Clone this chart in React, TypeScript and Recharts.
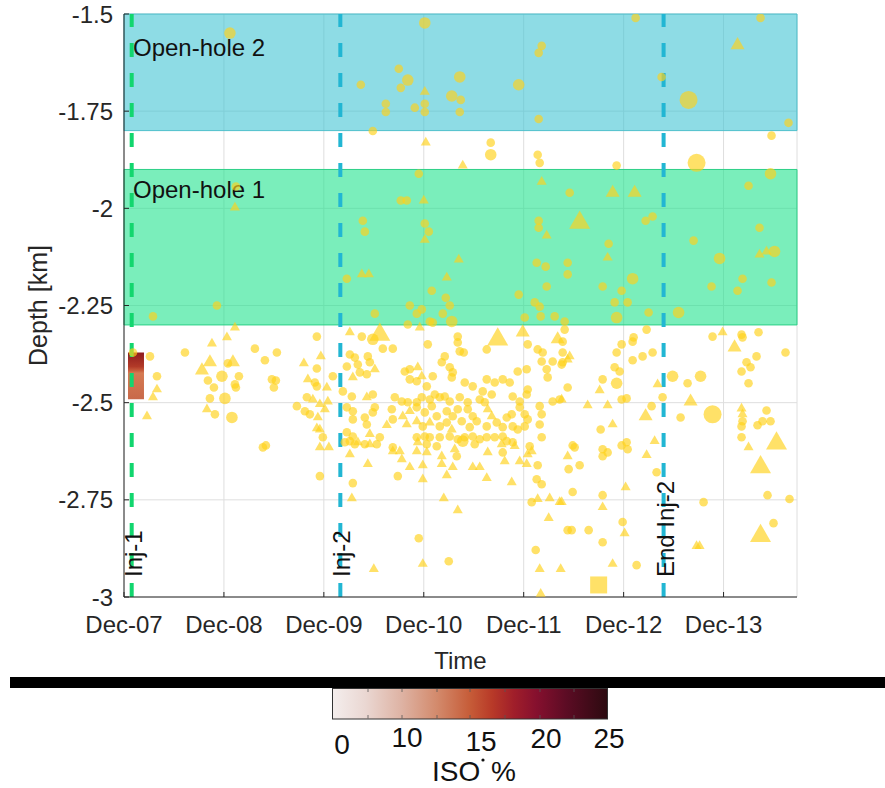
import React from 'react';
import {
  ScatterChart,
  Scatter,
  XAxis,
  YAxis,
  CartesianGrid,
  ReferenceArea,
  ReferenceLine,
} from 'recharts';

const FONT = '"Liberation Sans", Arial, Helvetica, sans-serif';
const YEL = '#ffd21a';

// x = days after Dec-07 (0 = Dec-07), y = depth in km
const dayTicks = [0, 1, 2, 3, 4, 5, 6];
const dayLabels = ['Dec-07', 'Dec-08', 'Dec-09', 'Dec-10', 'Dec-11', 'Dec-12', 'Dec-13'];
const depthTicks = [-3, -2.75, -2.5, -2.25, -2, -1.75, -1.5];

const openHole2 = [-1.8, -1.5];
const openHole1 = [-2.3, -1.9];

const injDays = [0.077, 2.165, 5.4];
const injNames = ['Inj-1', 'Inj-2', 'End Inj-2'];

// coloured ISO patch next to Inj-1 (days, depth)
const isoPatchDays = [0.04, 0.2];
const isoPatchDepth = [-2.491, -2.371];
const isoTicks = [0, 10, 15, 20, 25];

const circleSmall: [number, number][] = [
  [1.12, -1.944], [2.23, -2.181], [0.93, -2.25], [0.29, -2.278], [4.18, -1.582], [4.15, -1.6],
  [2.75, -1.641], [2.37, -1.682], [2.77, -1.69], [3.37, -1.721], [2.62, -1.731], [2.62, -1.752],
  [2.91, -1.741], [3.01, -1.731], [3.01, -1.752], [3.36, -1.752], [4.15, -1.77], [2.49, -1.801],
  [3.67, -1.831], [4.14, -1.862], [4.16, -1.883], [2.95, -1.911], [4.46, -1.96], [2.77, -1.98],
  [2.83, -1.98], [2.39, -2.032], [2.41, -2.06], [3.01, -2.039], [3.05, -2.06], [4.15, -2.032],
  [4.15, -2.05], [4.13, -2.14], [4.22, -2.15], [4.44, -2.14], [4.44, -2.17], [4.23, -2.201],
  [3.08, -2.212], [3.22, -2.23], [3.95, -2.222], [4.11, -2.242], [4.16, -2.253], [2.86, -2.25],
  [3.26, -2.25], [2.51, -2.271], [2.93, -2.271], [2.98, -2.26], [3.19, -2.271], [3.06, -2.291],
  [3.09, -2.294], [2.84, -2.299], [4.01, -2.281], [4.17, -2.278], [4.31, -2.278], [4.41, -2.291],
  [5.12, -1.51], [6.37, -1.51], [5.38, -1.662], [6.65, -1.78], [6.48, -1.813], [4.93, -1.89],
  [6.25, -1.942], [5.22, -2.032], [5.29, -2.021], [6.36, -2.05], [5.7, -2.083], [4.85, -2.091],
  [6.19, -2.181], [6.48, -2.191], [4.79, -2.201], [4.98, -2.212], [5.88, -2.201], [6.14, -2.212],
  [4.91, -2.242], [5.04, -2.242], [5.25, -2.268],
  [0.09, -2.371], [0.26, -2.381], [0.33, -2.432], [0.61, -2.371], [1.31, -2.361], [1.53, -2.371],
  [1.41, -2.391], [1.04, -2.399], [1.15, -2.432], [0.84, -2.443], [1.11, -2.453], [1.12, -2.461],
  [0.9, -2.461], [1.48, -2.44], [1.52, -2.443], [1.5, -2.461], [0.86, -2.489], [0.91, -2.53],
  [1.39, -2.615], [1.42, -2.61], [1.93, -2.33], [1.93, -2.412], [1.91, -2.448], [1.93, -2.458],
  [2.09, -2.432], [1.83, -2.486], [1.73, -2.509], [1.81, -2.522], [1.86, -2.53], [1.99, -2.589],
  [1.96, -2.689],
  [2.38, -2.33], [2.59, -2.361], [2.69, -2.361], [3.04, -2.35], [3.34, -2.33], [3.34, -2.345],
  [3.36, -2.368], [3.4, -2.371], [3.63, -2.363], [4.04, -2.35], [4.14, -2.363], [4.19, -2.371],
  [4.39, -2.371], [2.26, -2.376], [2.31, -2.384], [2.44, -2.381], [2.46, -2.396], [2.23, -2.407],
  [2.34, -2.402], [2.36, -2.422], [2.43, -2.427], [2.81, -2.42], [2.86, -2.414], [3.18, -2.396],
  [3.21, -2.381], [3.26, -2.409], [3.29, -2.422], [3.28, -2.435], [3.09, -2.432], [2.86, -2.44],
  [2.93, -2.445], [3.03, -2.458], [3.41, -2.448], [3.49, -2.458], [3.63, -2.44], [3.71, -2.448],
  [3.59, -2.471], [3.68, -2.479], [3.79, -2.44], [3.86, -2.448], [3.94, -2.42], [4.03, -2.414],
  [4.18, -2.394], [4.23, -2.414], [4.24, -2.435], [4.29, -2.394], [4.38, -2.402], [4.44, -2.461],
  [4.04, -2.466], [4.03, -2.479], [2.19, -2.471], [2.28, -2.484], [2.49, -2.479], [2.71, -2.486],
  [2.78, -2.497], [2.84, -2.499], [2.93, -2.499], [2.98, -2.486], [3.06, -2.492], [3.11, -2.479],
  [3.16, -2.486], [3.21, -2.484], [3.26, -2.497], [3.36, -2.486], [3.44, -2.499], [3.56, -2.492],
  [3.61, -2.499], [3.89, -2.484], [3.96, -2.497], [3.96, -2.512], [4.01, -2.53], [4.16, -2.509],
  [4.18, -2.53], [4.29, -2.497], [4.36, -2.492], [2.23, -2.512], [2.29, -2.522], [2.51, -2.512],
  [2.49, -2.525], [2.68, -2.517], [2.93, -2.512], [3.01, -2.525], [3.08, -2.509], [3.13, -2.535],
  [3.23, -2.522], [3.29, -2.535], [3.34, -2.517], [3.44, -2.517], [3.49, -2.535], [3.83, -2.538],
  [3.88, -2.53], [2.29, -2.543], [2.41, -2.538], [2.43, -2.556], [2.69, -2.543], [2.99, -2.561],
  [3.16, -2.561], [3.23, -2.551], [3.38, -2.548], [3.46, -2.563], [3.53, -2.548], [3.63, -2.561],
  [3.73, -2.551], [3.79, -2.563], [3.89, -2.561], [3.94, -2.569], [4.01, -2.561], [4.04, -2.543],
  [4.16, -2.556], [4.18, -2.589], [2.23, -2.576], [2.29, -2.587], [2.26, -2.599], [2.56, -2.589],
  [2.93, -2.589], [3.01, -2.587], [3.06, -2.589], [3.16, -2.589], [3.26, -2.587], [3.34, -2.594],
  [3.41, -2.589], [3.49, -2.587], [3.56, -2.594], [3.63, -2.589], [3.71, -2.589], [3.79, -2.587],
  [3.83, -2.599], [2.21, -2.602], [2.31, -2.607], [2.41, -2.607], [2.53, -2.607], [2.69, -2.615],
  [3.03, -2.607], [3.13, -2.612], [3.51, -2.607], [3.89, -2.602], [4.06, -2.612], [3.33, -2.638],
  [3.79, -2.628], [4.14, -2.661], [2.74, -2.689], [2.29, -2.707], [4.13, -2.697], [4.18, -2.71],
  [4.08, -2.756], [4.44, -2.828], [2.95, -2.849], [4.12, -2.879], [3.25, -2.908],
  [4.41, -2.312], [4.39, -2.343], [4.39, -2.396], [4.98, -2.35], [4.93, -2.371], [5.1, -2.332],
  [5.09, -2.343], [5.23, -2.312], [5.09, -2.391], [5.19, -2.381], [5.29, -2.371], [4.91, -2.409],
  [4.96, -2.42], [4.79, -2.44], [4.98, -2.492], [5.03, -2.489], [5.64, -2.45], [5.39, -2.486],
  [5.28, -2.509], [5.57, -2.538], [5.89, -2.33], [6.18, -2.325], [6.19, -2.332], [6.35, -2.319],
  [6.33, -2.381], [6.62, -2.371], [6.23, -2.396], [6.27, -2.409], [6.18, -2.42], [6.25, -2.45],
  [6.43, -2.52], [6.19, -2.548], [6.18, -2.561], [6.34, -2.558], [6.39, -2.548], [6.47, -2.548],
  [6.18, -2.589], [6.44, -2.738], [6.66, -2.748], [6.5, -2.81], [4.77, -2.569], [4.49, -2.61],
  [4.51, -2.615], [4.45, -2.671], [4.56, -2.661], [4.79, -2.62], [4.84, -2.628], [4.79, -2.638],
  [4.98, -2.61], [5.03, -2.602], [5.04, -2.62], [5.33, -2.679], [4.49, -2.73], [4.79, -2.738],
  [5.8, -2.756], [4.99, -2.807], [4.48, -2.828], [4.65, -2.828], [4.79, -2.859], [5.13, -2.918],
];

const circleMed: [number, number][] = [
  [1.06, -1.549], [3.01, -1.523], [2.84, -1.67], [3.36, -1.662], [3.95, -1.682], [3.28, -1.711],
  [3.67, -1.862], [3.28, -2.291], [6.47, -1.911], [5.96, -2.129], [5.09, -2.181], [4.93, -2.281],
  [5.55, -2.268], [6.51, -2.111], [0.98, -2.432], [1.01, -2.489], [2.49, -2.337], [4.93, -2.45],
  [5.49, -2.432], [5.77, -2.432], [3.39, -2.599], [1.08, -2.538],
];

const circleBig: [number, number][] = [[5.65, -1.721], [5.73, -1.883], [5.89, -2.53]];

const triSmall: [number, number][] = [
  [1.11, -1.998], [1.11, -2.307], [3.01, -1.7], [3.02, -1.831], [3.39, -1.89], [4.18, -1.932],
  [3.0, -1.98], [3.01, -2.081], [4.23, -2.07], [3.35, -2.132], [2.38, -2.17], [2.45, -2.17],
  [3.23, -2.178], [4.84, -2.127], [6.36, -2.119], [6.43, -2.111], [0.33, -2.466], [0.29, -2.486],
  [0.23, -2.535], [0.88, -2.348], [1.03, -2.332], [0.83, -2.517], [1.97, -2.381], [1.8, -2.399],
  [1.84, -2.44], [2.03, -2.461], [1.89, -2.492], [1.96, -2.504], [2.04, -2.497], [1.94, -2.538],
  [1.93, -2.566], [1.96, -2.569], [1.96, -2.615], [2.05, -2.615], [2.01, -2.517], [2.26, -2.319],
  [2.96, -2.307], [2.51, -2.414], [2.29, -2.435], [2.94, -2.409], [2.98, -2.432], [4.44, -2.389],
  [2.43, -2.486], [2.79, -2.535], [2.86, -2.522], [3.64, -2.517], [3.68, -2.535], [2.63, -2.558],
  [2.83, -2.556], [2.93, -2.548], [3.06, -2.551], [3.28, -2.569], [2.46, -2.581], [2.34, -2.602],
  [2.46, -2.607], [2.76, -2.625], [2.94, -2.602], [3.78, -2.607], [3.91, -2.612], [4.08, -2.625],
  [2.26, -2.633], [2.69, -2.625], [2.93, -2.625], [3.03, -2.628], [3.18, -2.638], [3.31, -2.62],
  [3.64, -2.628], [3.81, -2.651], [3.96, -2.651], [4.04, -2.633], [4.03, -2.658], [2.44, -2.658],
  [2.78, -2.646], [2.86, -2.666], [2.99, -2.661], [3.18, -2.658], [3.29, -2.666], [3.49, -2.666],
  [3.56, -2.666], [2.99, -2.697], [3.23, -2.687], [3.63, -2.694], [3.88, -2.705], [2.28, -2.746],
  [3.2, -2.746], [3.34, -2.777], [4.14, -2.748], [4.26, -2.746], [4.36, -2.756], [4.25, -2.797],
  [2.5, -2.928], [2.99, -2.915], [4.16, -2.928], [4.37, -2.928], [4.17, -2.992], [4.46, -2.381],
  [4.38, -2.492], [4.76, -2.468], [4.64, -2.507], [4.84, -2.507], [5.34, -2.453], [5.99, -2.319],
  [6.18, -2.515], [6.19, -2.53], [6.25, -2.615], [4.89, -2.556], [4.44, -2.638], [5.23, -2.635],
  [5.31, -2.599], [5.02, -2.718], [4.79, -2.769], [4.38, -2.756], [5.01, -2.836], [5.73, -2.869],
  [5.76, -2.869], [4.89, -2.915],
];

const triMed: [number, number][] = [
  [6.14, -1.58], [4.89, -1.96], [5.11, -1.96], [4.34, -2.337], [5.22, -2.535], [5.67, -2.497],
  [3.99, -2.319], [0.86, -2.396], [0.78, -2.417], [1.09, -2.396], [6.11, -2.358],
];

const triBig: [number, number][] = [
  [2.56, -2.325], [3.74, -2.337], [4.56, -2.037], [6.53, -2.605], [6.37, -2.666], [6.37, -2.843],
];

const squares: [number, number][] = [[4.75, -2.969]];

type Kind = 'circle' | 'triangle' | 'square';

const marker = (kind: Kind, s: number) => (p: any) => {
  const { cx, cy } = p;
  if (!Number.isFinite(cx) || !Number.isFinite(cy)) return <g />;
  if (kind === 'circle') {
    return <circle cx={cx} cy={cy} r={s} fill={YEL} fillOpacity={0.66} />;
  }
  if (kind === 'square') {
    return <rect x={cx - s / 2} y={cy - s / 2} width={s} height={s} fill={YEL} fillOpacity={0.66} />;
  }
  const h = s * 0.87;
  return (
    <polygon
      points={`${cx},${cy - (h * 2) / 3} ${cx - s / 2},${cy + h / 3} ${cx + s / 2},${cy + h / 3}`}
      fill={YEL}
      fillOpacity={0.66}
    />
  );
};

const series = [
  { name: 'circleSmall', data: circleSmall, shape: marker('circle', 4.3) },
  { name: 'triSmall', data: triSmall, shape: marker('triangle', 10) },
  { name: 'circleMed', data: circleMed, shape: marker('circle', 5.8) },
  { name: 'triMed', data: triMed, shape: marker('triangle', 14) },
  { name: 'circleBig', data: circleBig, shape: marker('circle', 9) },
  { name: 'triBig', data: triBig, shape: marker('triangle', 21) },
  { name: 'squares', data: squares, shape: marker('square', 17) },
];

const injColors = ['#12d66e', '#22b6d3', '#22b6d3'];

const injLabel = (text: string) => (props: any) => {
  const vb = props.viewBox || {};
  const x = (vb.x ?? 0) + 10;
  const y = (vb.y ?? 0) + (vb.height ?? 0) - 20;
  return (
    <text transform={`translate(${x},${y}) rotate(-90)`} fontSize={24} fill="#111" fontFamily={FONT}>
      {text}
    </text>
  );
};

const bandLabel = (text: string, dy: number) => (props: any) => {
  const vb = props.viewBox || {};
  return (
    <text x={(vb.x ?? 0) + 9} y={(vb.y ?? 0) + dy} fontSize={24} fill="#111" fontFamily={FONT}>
      {text}
    </text>
  );
};

// colour bar label placement (px) and gradient
const isoLabelPos = [
  [342, 754],
  [407, 747],
  [481, 751],
  [546, 748],
  [609, 748],
];
const isoStops = [
  [0, '#f4eeed'], [0.12, '#ead7d2'], [0.25, '#deb3a4'], [0.38, '#d38a6c'], [0.5, '#c65c38'],
  [0.58, '#b83a28'], [0.66, '#a01e2a'], [0.74, '#86102e'], [0.85, '#5c0c24'], [1, '#2c0a10'],
];
const cbMinor = [368, 402, 437, 470, 505, 540, 574];

export default function App() {
  return (
    <div style={{ position: 'absolute', left: 0, top: 0, width: 885, height: 788, background: '#fff', overflow: 'hidden' }}>
      <div style={{ position: 'absolute', left: 0, top: 0 }}>
        <ScatterChart width={885} height={680} margin={{ top: 14, right: 88, bottom: 0, left: 0 }}>
          <defs>
            <linearGradient id="isoPatch" x1="0" y1="0" x2="0" y2="1">
              <stop offset="0%" stopColor="#8e1c1e" />
              <stop offset="30%" stopColor="#b23a28" />
              <stop offset="38%" stopColor="#c65a3a" />
              <stop offset="44%" stopColor="#d57a52" />
              <stop offset="100%" stopColor="#c8694a" />
            </linearGradient>
          </defs>
          <CartesianGrid stroke="#dedede" />
          <XAxis
            type="number"
            dataKey="x"
            domain={[0, 6.735]}
            ticks={dayTicks}
            tickFormatter={(v: number) => dayLabels[Math.round(v)] ?? ''}
            allowDataOverflow
            height={83}
            stroke="#262626"
            tickSize={-5}
            tickMargin={24}
            tick={{ fontSize: 24, fill: '#262626', fontFamily: FONT }}
          />
          <YAxis
            type="number"
            dataKey="y"
            domain={[-3, -1.5]}
            ticks={depthTicks}
            tickFormatter={(v: number) => String(v)}
            allowDataOverflow
            width={124}
            stroke="#262626"
            tickSize={-5}
            tickMargin={16}
            tick={{ fontSize: 24, fill: '#262626', fontFamily: FONT }}
          />
          <ReferenceArea
            y1={openHole2[0]}
            y2={openHole2[1]}
            fill="#3cc3d3"
            fillOpacity={0.58}
            stroke="#4fbfcc"
            strokeWidth={1}
            label={bandLabel('Open-hole 2', 42)}
          />
          <ReferenceArea
            y1={openHole1[0]}
            y2={openHole1[1]}
            fill="#22e38e"
            fillOpacity={0.6}
            stroke="#2ccf86"
            strokeWidth={1}
            label={bandLabel('Open-hole 1', 29)}
          />
          {injDays.map((d, i) => (
            <ReferenceLine
              key={injNames[i]}
              x={d}
              stroke={injColors[i]}
              strokeWidth={4}
              strokeDasharray="14 16"
              label={injLabel(injNames[i])}
            />
          ))}
          <ReferenceArea
            x1={isoPatchDays[0]}
            x2={isoPatchDays[1]}
            y1={isoPatchDepth[0]}
            y2={isoPatchDepth[1]}
            fill="url(#isoPatch)"
            fillOpacity={1}
            stroke="none"
          />
          {series.map(s => (
            <Scatter
              key={s.name}
              data={s.data.map(([x, y]) => ({ x, y }))}
              shape={s.shape}
              isAnimationActive={false}
            />
          ))}
          <ReferenceArea fill="none" stroke="#262626" strokeWidth={1} />
        </ScatterChart>
      </div>
      <svg
        width={885}
        height={788}
        style={{ position: 'absolute', left: 0, top: 0, pointerEvents: 'none' }}
        fontFamily={FONT}
      >
        <defs>
          <linearGradient id="isoScale" x1="0" y1="0" x2="1" y2="0">
            {isoStops.map(([o, c]) => (
              <stop key={String(o)} offset={String(o)} stopColor={String(c)} />
            ))}
          </linearGradient>
        </defs>
        <text x={460.5} y={669} fontSize={24} fill="#262626" textAnchor="middle">
          Time
        </text>
        <text transform="translate(47,305.5) rotate(-90)" fontSize={25} fill="#262626" textAnchor="middle">
          Depth [km]
        </text>
        <rect x={10} y={677} width={875} height={11} fill="#000" />
        <rect x={332.5} y={688.5} width={275} height={30.5} fill="url(#isoScale)" stroke="#333" />
        {cbMinor.map(x => (
          <g key={x}>
            <line x1={x} x2={x} y1={689} y2={692} stroke="#555" strokeWidth={0.8} />
            <line x1={x} x2={x} y1={715} y2={718.5} stroke="#555" strokeWidth={0.8} />
          </g>
        ))}
        {isoTicks.map((t, i) => (
          <text
            key={t}
            x={isoLabelPos[i][0]}
            y={isoLabelPos[i][1]}
            fontSize={28}
            fill="#111"
            textAnchor="middle"
          >
            {t}
          </text>
        ))}
        <text x={432} y={781} fontSize={28} fill="#111">
          ISO
        </text>
        <circle cx={483} cy={760} r={1.6} fill="#111" />
        <text x={491} y={781} fontSize={28} fill="#111">
          %
        </text>
      </svg>
    </div>
  );
}
